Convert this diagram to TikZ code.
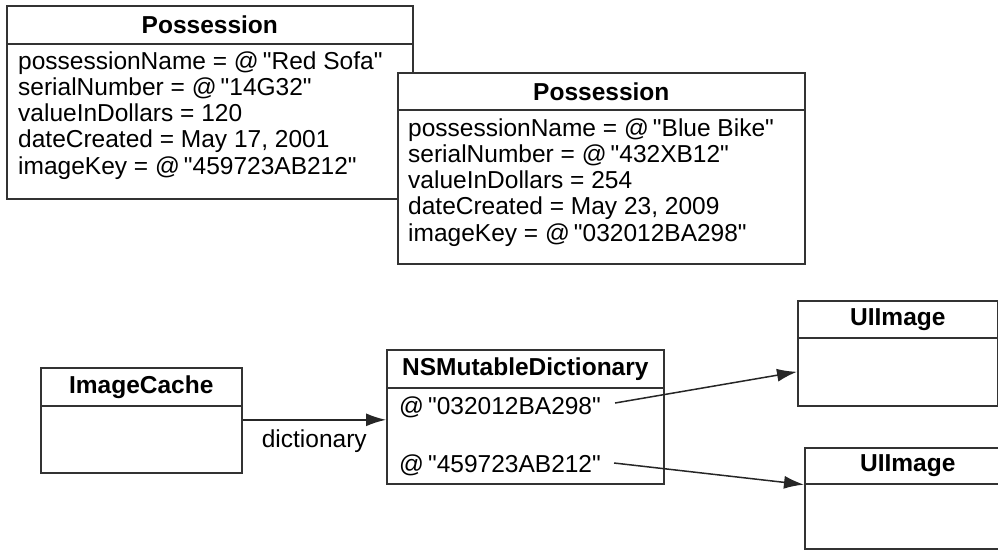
\documentclass[tikz,border=0pt]{standalone}
\usepackage{fontspec}
\setmainfont{Liberation Sans}[Ligatures=TeXOff]
\usetikzlibrary{arrows.meta}

\begin{document}
\begin{tikzpicture}
[
	x=1pt,
	y=-1pt,
	box/.style={draw=black!80,line width=1.6pt,fill=white,inner sep=0pt,anchor=north west},
	classhead/.style={box,font=\fontsize{24.5}{26}\selectfont\bfseries},
	field/.style={anchor=base west,inner sep=0pt,font=\fontsize{24.5}{26}\selectfont},
	link/.style={-{Latex[length=20pt,width=13pt]},line width=1.5pt,draw=black!85}
]

	\useasboundingbox (0,0) rectangle (998,550);
	\clip (0,0) rectangle (998,550);

	% first possession
	\node[classhead,minimum width=406pt,minimum height=38pt] (sofahead) at (6,5) {Possession};
	\node[box,minimum width=406pt,minimum height=155pt] (sofabody) at (6,43) {};
	\node[field] (sofaname) at (18,69) {possessionName = @\,"Red Sofa"};
	\node[field] (sofaserial) at (18,95.3) {serialNumber = @\,"14G32"};
	\node[field] (sofavalue) at (18,121.6) {valueInDollars = 120};
	\node[field] (sofadate) at (18,147.9) {dateCreated = May 17, 2001};
	\node[field] (sofakey) at (18,174.2) {imageKey = @\,"459723AB212"};

	% second possession
	\node[classhead,minimum width=407pt,minimum height=37pt] (bikehead) at (397,72) {Possession};
	\node[box,minimum width=407pt,minimum height=154pt] (bikebody) at (397,109) {};
	\node[field] (bikename) at (408,136) {possessionName = @\,"Blue Bike"};
	\node[field] (bikeserial) at (408,162.3) {serialNumber = @\,"432XB12"};
	\node[field] (bikevalue) at (408,188.6) {valueInDollars = 254};
	\node[field] (bikedate) at (408,214.9) {dateCreated = May 23, 2009};
	\node[field] (bikekey) at (408,241.2) {imageKey = @\,"032012BA298"};

	% image cache
	\node[classhead,minimum width=201pt,minimum height=38pt] (cachehead) at (40,367) {ImageCache};
	\node[box,minimum width=201pt,minimum height=67pt] (cachebody) at (40,405) {};

	% dictionary
	\node[classhead,minimum width=277pt,minimum height=38pt] (dicthead) at (386,349) {NSMutableDictionary};
	\node[box,minimum width=277pt,minimum height=96pt] (dictbody) at (386,387) {};
	\node[field] (keyone) at (399,414) {@\,"032012BA298"};
	\node[field] (keytwo) at (399,472) {@\,"459723AB212"};

	% images
	\node[classhead,minimum width=200pt,minimum height=37pt] (imgonehead) at (797,300) {UIImage};
	\node[box,minimum width=200pt,minimum height=68pt] (imgonebody) at (797,337) {};
	\node[classhead,minimum width=206pt,minimum height=36pt] (imgtwohead) at (804,447) {UIImage};
	\node[box,minimum width=206pt,minimum height=65pt] (imgtwobody) at (804,483) {};

	% links
	\draw[link] ([yshift=19.5pt]cachebody.east) coordinate (dictstart) -- (dictstart -| dictbody.west)
	  node[midway,below=6pt,font=\fontsize{24.5}{26}\selectfont] (dictlabel) {dictionary};
	\draw[link] ([xshift=14pt,yshift=11pt]keyone.base east) -- (imgonebody.west);
	\draw[link] ([xshift=13pt,yshift=9pt]keytwo.base east) -- (imgtwohead.south west);

\end{tikzpicture}
\end{document}
